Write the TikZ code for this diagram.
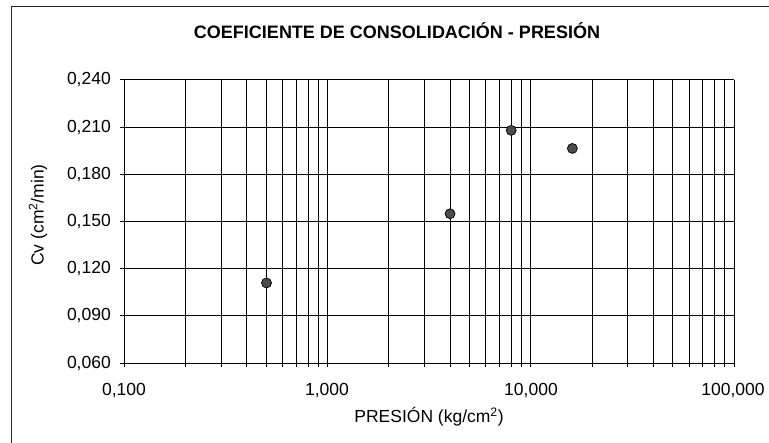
\documentclass[tikz,border=0pt]{standalone}
\usepackage{fontspec}
\setmainfont{Liberation Sans}
\begin{document}
\begin{tikzpicture}[x=1pt,y=-1pt,
  grid/.style={line width=1pt,black},
  frame/.style={line width=0.8pt,black!85},
  lab/.style={font=\fontsize{17.5}{19}\selectfont,inner sep=0pt},
  pt/.style={circle,fill=black!70,draw=black,line width=0.7pt,inner sep=0pt,minimum size=10pt}]
\useasboundingbox (0,0) rectangle (769,443);
\def\xa{124.5}\def\dec{203.2}
\def\yt{80}\def\ys{47.2}
% outer frame (only top and left visible)
\draw[frame] (11,445) -- (11,6) -- (771,6);
% title
\node[font=\bfseries\fontsize{18}{20}\selectfont,inner sep=0pt] (title) at (397,31) {COEFICIENTE DE CONSOLIDACIÓN - PRESIÓN};
% horizontal grid lines and y labels
\foreach \v/\lab [count=\i from 0] in {0.240/{0,240},0.210/{0,210},0.180/{0,180},0.150/{0,150},0.120/{0,120},0.090/{0,090},0.060/{0,060}}{
  \pgfmathsetmacro\yy{\yt+\i*\ys}
  \draw[grid] (119.5,\yy) -- (734,\yy);
  \node[lab,anchor=east] (yl\i) at (111,\yy) {\lab};
}
% vertical grid lines
\foreach \d in {0,1,2}{
  \foreach \m in {1,...,9}{
    \pgfmathsetmacro\xx{\xa+\dec*(\d+log10(\m))}
    \draw[grid] (\xx,\yt) -- (\xx,367);
  }
}
\draw[grid] (734,\yt) -- (734,367);
% x labels
\node[lab] (xl0) at (124,391) {0,100};
\node[lab] (xl1) at (327,391) {1,000};
\node[lab] (xl2) at (531,391) {10,000};
\node[lab] (xl3) at (733,391) {100,000};
% axis titles
\node[lab] (xtitle) at (429,417) {PRESIÓN (kg/cm\textsuperscript{2})};
\node[lab,rotate=90] (ytitle) at (38,215) {Cv (cm\textsuperscript{2}/min)};
% data points
\foreach \px/\py [count=\k] in {0.5/0.111,4/0.155,8/0.208,16/0.1965}{
  \pgfmathsetmacro\xx{\xa+\dec*(1+log10(\px))}
  \pgfmathsetmacro\yy{\yt+(0.240-\py)/0.030*\ys}
  \node[pt] (p\k) at (\xx,\yy) {};
}
\end{tikzpicture}
\end{document}
